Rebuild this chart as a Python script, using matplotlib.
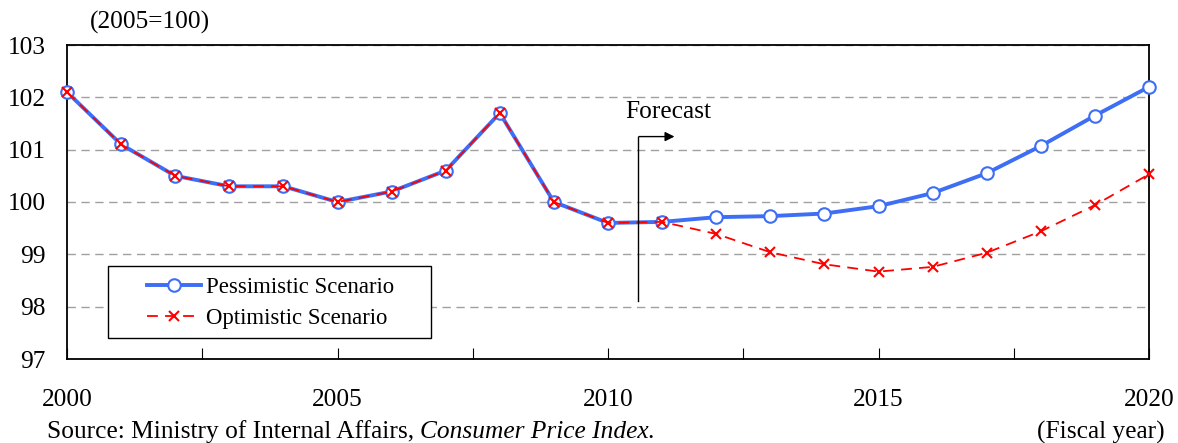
import matplotlib
matplotlib.use("Agg")
import matplotlib.pyplot as plt
from matplotlib.ticker import MultipleLocator, FuncFormatter
from matplotlib.patches import Rectangle

years = list(range(2000, 2021))
pessimistic = [102.1, 101.1, 100.5, 100.3, 100.3, 100.0, 100.2, 100.6, 101.7, 100.0,
               99.6, 99.62, 99.71, 99.73, 99.78, 99.92, 100.17, 100.55, 101.07, 101.65, 102.2]
optimistic = [102.1, 101.1, 100.5, 100.3, 100.3, 100.0, 100.2, 100.6, 101.7, 100.0,
              99.6, 99.62, 99.39, 99.04, 98.81, 98.67, 98.76, 99.03, 99.44, 99.94, 100.53]
y_ticks = [97, 98, 99, 100, 101, 102, 103]
x_labels = [2000, 2005, 2010, 2015, 2020]

plt.rcParams['font.family'] = ['Liberation Serif', 'DejaVu Serif']

W, H = 1178, 443
FS = 18.3

fig = plt.figure(figsize=(W/100, H/100), dpi=100)
ax = fig.add_axes([67/W, 1 - 359/H, (1149-67)/W, (359-45)/H])

def ax_x(px):
    return (px - 67) / (1149 - 67)

def ax_y(py):
    return (359 - py) / (359 - 45)

ax.plot(years, pessimistic, color='#3d6ef5', lw=2.8, marker='o', ms=9,
        mfc='white', mec='#3d6ef5', mew=1.5, label='Pessimistic Scenario', zorder=3,
        clip_on=False)
ax.plot(years, optimistic, color='#ff0000', lw=1.3, ls=(0, (6, 4)), marker='x', ms=7,
        mew=1.5, label='Optimistic Scenario', zorder=4, clip_on=False)

ax.set_xlim(2000, 2020)
ax.set_ylim(97, 103)
ax.set_yticks(y_ticks)
ax.yaxis.grid(True, color='#a0a0a0', ls=(0, (6, 4)), lw=1.0)
ax.set_axisbelow(True)
ax.tick_params(axis='y', length=0, pad=15.5, labelsize=FS)

ax.xaxis.set_major_locator(MultipleLocator(2.5))
ax.xaxis.set_major_formatter(FuncFormatter(
    lambda v, p: str(int(round(v))) if abs(v - round(v)) < 1e-6 and int(round(v)) in x_labels else ''))
ax.tick_params(axis='x', direction='in', length=8, width=0.8, pad=21.5, labelsize=FS)

for s in ax.spines.values():
    s.set_color('black')
    s.set_linewidth(1.3)

# Forecast marker
ax.annotate('', xy=(2011.28, 101.25), xytext=(2010.52, 101.25),
            arrowprops=dict(arrowstyle='-|>', color='black', lw=1.0, mutation_scale=14))
ax.plot([2010.56, 2010.56], [98.1, 101.25], color='black', lw=1.0, zorder=5)
ax.text(2011.12, 101.72, 'Forecast', ha='center', va='center', fontsize=FS)

# Legend (frame drawn separately to match the wide padding)
frame = Rectangle((ax_x(108), ax_y(338)), ax_x(431) - ax_x(108), ax_y(266) - ax_y(338),
                  transform=ax.transAxes, facecolor='white', edgecolor='black', lw=1.0,
                  zorder=6)
ax.add_patch(frame)
leg = ax.legend(loc='center left', bbox_to_anchor=(ax_x(147), ax_y(303)),
                fontsize=16.4, frameon=False, handlelength=2.37, borderpad=0,
                labelspacing=0.45, handletextpad=0.22, borderaxespad=0)
leg.set_zorder(7)

fig.text(90/W, 1 - 22/H, '(2005=100)', fontsize=FS, ha='left', va='center')
src = fig.text(47/W, 1 - 432/H, 'Source: Ministry of Internal Affairs, ', fontsize=FS,
               ha='left', va='center')
fig.canvas.draw()
bb = src.get_window_extent()
fig.text(bb.x1/W, 1 - 432/H, 'Consumer Price Index.', fontsize=FS, style='italic',
         ha='left', va='center')
fig.text(1165/W, 1 - 432/H, '(Fiscal year)', fontsize=FS, ha='right', va='center')

fig.savefig('out.png', dpi=100)
